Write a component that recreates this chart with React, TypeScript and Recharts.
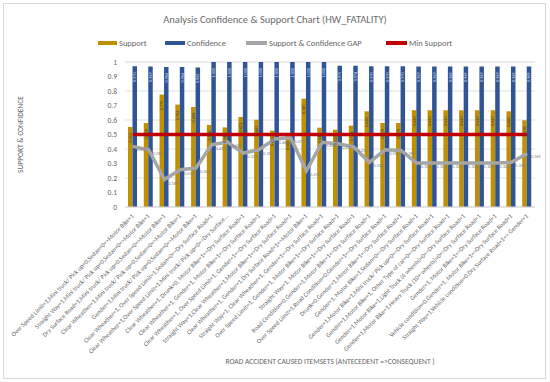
import React from "react";
import {
  ComposedChart,
  Bar,
  Line,
  XAxis,
  YAxis,
  CartesianGrid,
  LabelList,
} from "recharts";

const categories = [
  "Over Speed Limit=1,Mini truck/ Pick up=0,Sedan=0=>Motor Bike=1",
  "Straight Way=1,Mini truck/ Pick up=0,Sedan=0=>Motor Bike=1",
  "Dry Surface Road=1,Mini truck/ Pick up=0,Sedan=0=>Motor Bike=1",
  "Clear Wheather=1,Mini truck/ Pick up=0,Sedan=0=>Motor Bike=1",
  "Gender=1,Mini truck/ Pick up=0,Sedan=0=>Motor Bike=1",
  "Clear Wheather=1, Over Speed Limit=1,Sedan=0=>Dry Surface Road=1",
  "Clear Wheather=1,Over Speed Limit=1,Mini truck/ Pick up=0=>Dry Surface...",
  "Clear Wheather=1, Drunk=0, Motor Bike=1=>Dry Surface Road=1",
  "Clear Wheather=1, Gender=1, Motor Bike=1=>Dry Surface Road=1",
  "Clear Wheather=1, Over Speed Limit=1, Gender=1=>Dry Surface Road=1",
  "Straight Way=1,Clear Wheather=1,Motor Bike=1=>Dry Surface Road=1",
  "Clear Wheather=1, Gender=1,Dry Surface Road=1=>Motor Bike=1",
  "Straight Way=1, Clear Wheather=1, Gender=1=>Dry Surface Road=1",
  "Over Speed Limit=1, Gender=1, Motor Bike=1=>Dry Surface Road=1",
  "Straight Way=1, Motor Bike=1=>Dry Surface Road=1",
  "Road Condition=0,Gender=1,Motor Bike=1=>Dry Surface Road=1",
  "Over Speed Limit=1,Road Condition=0,Gender=1=>Dry Surface Road=1",
  "Drunk=0,Gender=1,Motor Bike=1=>Dry Surface Road=1",
  "Gender=1, Motor Bike=1,Sedan=0=>Dry Surface Road=1",
  "Gender=1,Motor Bike=1,Mini truck/ Pick up=0=>Dry Surface Road=1",
  "Gender=1,Motor Bike=1, Other Type of car=0=>Dry Surface Road=1",
  "Gender=1,Motor Bike=1,Light Truck (6 wheels)=0=>Dry Surface Road=1",
  "Gender=1,Motor Bike=1,Heavy Truck (10+ wheels)=0=>Dry Surface Road=1",
  "Gender=1, Motor Bike=1=>Dry Surface Road=1",
  "Vehicle condition=0,Gender=1, Motor Bike=1=>Dry Surface Road=1",
  "Straight Way=1,Vehicle condition=0,Dry Surface Road=1=> Gender=1",
];

const support = [
  0.552, 0.579, 0.775, 0.706, 0.69, 0.566, 0.549, 0.621, 0.602, 0.526, 0.5,
  0.747, 0.547, 0.533, 0.561, 0.66, 0.579, 0.579, 0.667, 0.667, 0.667, 0.667,
  0.667, 0.667, 0.66, 0.598,
];

const confidence = [
  0.97, 0.969, 0.966, 0.966, 0.962, 1, 1, 1, 1, 1, 1, 1, 1, 0.975, 0.974, 0.97,
  0.97, 0.97, 0.969, 0.969, 0.969, 0.969, 0.969, 0.969, 0.969, 0.969,
];

const gap = [
  0.418, 0.395, 0.189, 0.257, 0.269, 0.43, 0.448, 0.372, 0.395, 0.469, 0.478,
  0.25, 0.446, 0.437, 0.414, 0.308, 0.395, 0.39, 0.303, 0.303, 0.303, 0.303,
  0.303, 0.303, 0.308, 0.369,
];

const minSupport = [
  0.5, 0.5, 0.5, 0.5, 0.5, 0.5, 0.5, 0.5, 0.5, 0.5, 0.5, 0.5, 0.5, 0.5, 0.5,
  0.5, 0.5, 0.5, 0.5, 0.5, 0.5, 0.5, 0.5, 0.5, 0.5, 0.5,
];

const yTicks = [0, 0.1, 0.2, 0.3, 0.4, 0.5, 0.6, 0.7, 0.8, 0.9, 1];
const minorTicks = [
  0, 0.05, 0.1, 0.15, 0.2, 0.25, 0.3, 0.35, 0.4, 0.45, 0.5, 0.55, 0.6, 0.65,
  0.7, 0.75, 0.8, 0.85, 0.9, 0.95, 1,
];

const data = categories.map((name, i) => ({
  name,
  support: support[i],
  confidence: confidence[i],
  gap: gap[i],
  minSupport: minSupport[i],
}));

const FONT = "Carlito, 'Liberation Sans', Arial, sans-serif";
const GREY = "#666666";

const XTick = ({ x, y, payload }: any) => (
  <text
    x={x}
    y={y}
    dy={2}
    transform={`rotate(-45 ${x} ${y})`}
    textAnchor="end"
    fontSize={6.3}
    fill={GREY}
    fontFamily={FONT}
  >
    {payload.value}
  </text>
);

const barLabel = (color: string, offset: number) => (props: any) => {
  const { x, y, width, value } = props;
  const cx = x + width / 2 + 1.5;
  const cy = y + offset;
  return (
    <text
      x={cx}
      y={cy}
      transform={`rotate(-90 ${cx} ${cy})`}
      textAnchor="end"
      fontSize={4.2}
      fill={color}
      fontFamily={FONT}
    >
      {Number(value).toFixed(3)}
    </text>
  );
};

const gapLabel = (props: any) => {
  const { x, y, value } = props;
  return (
    <text x={x + 4} y={y + 5} fontSize={4.2} fill="#7f7f7f" fontFamily={FONT}>
      {Number(value).toFixed(3)}
    </text>
  );
};

const legendItems = [
  { label: "Support", color: "#BF9000", left: 98, w: 19 },
  { label: "Confidence", color: "#2F5597", left: 165, w: 20 },
  { label: "Support & Confidence GAP", color: "#A5A5A5", left: 246, w: 21 },
  { label: "Min Support", color: "#C00000", left: 386, w: 21 },
];

export default function App() {
  return (
    <div
      style={{
        position: "absolute",
        left: 0,
        top: 0,
        width: 550,
        height: 382,
        background: "#fff",
        fontFamily: FONT,
      }}
    >
      <div
        style={{
          position: "absolute",
          left: 3,
          top: 3,
          width: 541,
          height: 374,
          border: "1px solid #D9D9D9",
        }}
      />
      <div
        style={{
          position: "absolute",
          left: 0,
          width: 550,
          top: 13,
          textAlign: "center",
          fontSize: 10.5,
          fontWeight: 400,
          color: "#6b6b6b",
        }}
      >
        Analysis Confidence &amp; Support Chart (HW_FATALITY)
      </div>
      {legendItems.map((it) => (
        <div
          key={it.label}
          style={{
            position: "absolute",
            left: it.left,
            top: 38,
            display: "flex",
            alignItems: "center",
            fontSize: 8.5,
            color: GREY,
            whiteSpace: "nowrap",
          }}
        >
          <span
            style={{
              display: "inline-block",
              width: it.w,
              height: 4,
              background: it.color,
              marginRight: 2,
            }}
          />
          {it.label}
        </div>
      ))}
      <ComposedChart
        width={550}
        height={382}
        data={data}
        margin={{ top: 62, right: 15, left: 12, bottom: 30 }}
        barGap={0}
        style={{ position: "absolute", left: 0, top: 0 }}
      >
        <CartesianGrid
          yAxisId="minor"
          vertical={false}
          stroke="#EDEDED"
          strokeWidth={0.7}
        />
        <CartesianGrid vertical={false} stroke="#D9D9D9" strokeWidth={0.8} />
        <YAxis
          yAxisId="minor"
          hide
          domain={[0, 1]}
          ticks={minorTicks}
          type="number"
        />
        <YAxis
          domain={[0, 1]}
          ticks={yTicks}
          type="number"
          width={113}
          axisLine={false}
          tickLine={false}
          tick={{ fontSize: 7.5, fill: GREY, fontFamily: FONT }}
          label={{
            value: "SUPPORT & CONFIDENCE",
            angle: -90,
            position: "insideLeft",
            offset: 8,
            style: { textAnchor: "middle", fontSize: 7.5, fill: GREY, fontFamily: FONT },
          }}
        />
        <XAxis
          dataKey="name"
          interval={0}
          height={145}
          axisLine={{ stroke: "#D9D9D9" }}
          tickLine={false}
          tick={<XTick />}
          label={{
            value: "ROAD ACCIDENT CAUSED ITEMSETS (ANTECEDENT =>CONSEQUENT )",
            position: "bottom",
            offset: 7,
            style: { fontSize: 7.5, fill: GREY, fontFamily: FONT },
          }}
        />
        <Bar
          dataKey="support"
          fill="#BF9000"
          barSize={4.5}
          isAnimationActive={false}
        >
          <LabelList dataKey="support" content={barLabel("#404040", 6)} />
        </Bar>
        <Bar
          dataKey="confidence"
          fill="#2F5597"
          barSize={4.5}
          isAnimationActive={false}
        >
          <LabelList dataKey="confidence" content={barLabel("#C9D3E8", 6)} />
        </Bar>
        <Line
          dataKey="gap"
          stroke="#A5A5A5"
          strokeWidth={3.5}
          dot={false}
          isAnimationActive={false}
        >
          <LabelList dataKey="gap" content={gapLabel} />
        </Line>
        <Line
          dataKey="minSupport"
          stroke="#C00000"
          strokeWidth={3.5}
          dot={false}
          isAnimationActive={false}
        />
      </ComposedChart>
    </div>
  );
}
